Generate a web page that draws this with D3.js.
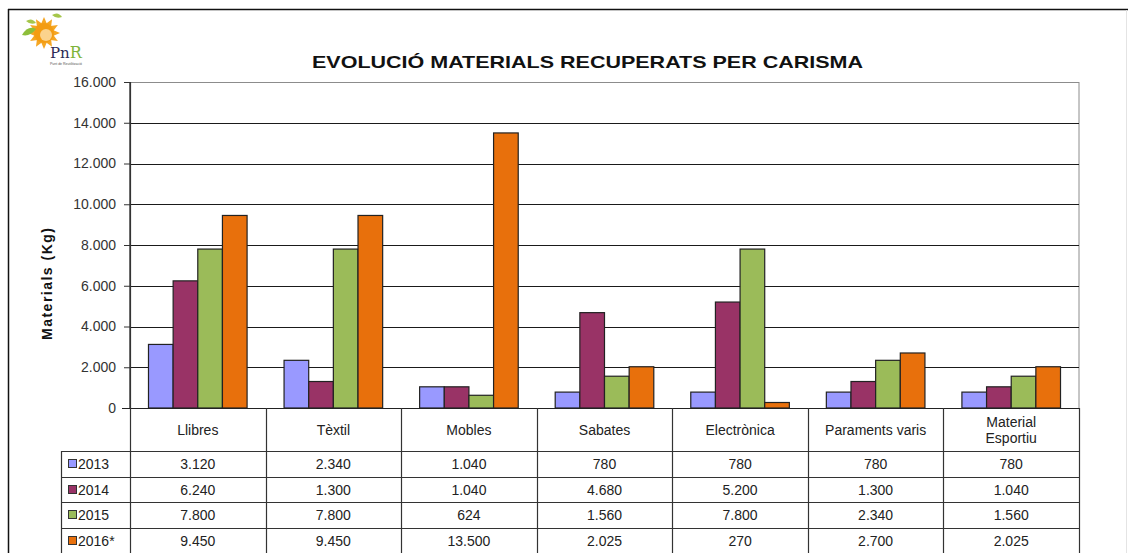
<!DOCTYPE html>
<html>
<head>
<meta charset="utf-8">
<script src="https://cdn.jsdelivr.net/npm/d3@7"></script>
<style>
  html, body { margin: 0; padding: 0; background: #fff; }
  svg { display: block; font-family: "Liberation Sans", Arial, sans-serif; }
</style>
</head>
<body>
<svg id="chart" width="1128" height="553"></svg>
<script>
// ---- Data ----
const title = "EVOLUCIÓ MATERIALS RECUPERATS PER CARISMA";
const yAxisTitle = "Materials (Kg)";
const categories = ["Llibres", "Tèxtil", "Mobles", "Sabates", "Electrònica", "Paraments varis", "Material Esportiu"];
const categoryLines = [["Llibres"], ["Tèxtil"], ["Mobles"], ["Sabates"], ["Electrònica"], ["Paraments varis"], ["Material", "Esportiu"]];
const seriesNames = ["2013", "2014", "2015", "2016*"];
const values2013 = [3120, 2340, 1040, 780, 780, 780, 780];
const values2014 = [6240, 1300, 1040, 4680, 5200, 1300, 1040];
const values2015 = [7800, 7800, 624, 1560, 7800, 2340, 1560];
const values2016 = [9450, 9450, 13500, 2025, 270, 2700, 2025];
const seriesColors = ["#9999FF", "#993366", "#9BBB59", "#E8700C"];
const yTicks = [0, 2000, 4000, 6000, 8000, 10000, 12000, 14000, 16000];

const seriesValues = [values2013, values2014, values2015, values2016];

// ---- Layout ----
const svg = d3.select("#chart");
const plotL = 130, plotR = 1079, plotT = 82, plotB = 408;
const legendL = 61;
const headerB = 451;
const rowH = 26;

const loc = d3.formatLocale({decimal: ",", thousands: ".", grouping: [3], currency: ["", "€"]});
const fmt = loc.format(",d");

const x0 = d3.scaleBand().domain(categories).range([plotL, plotR]).paddingInner(0).paddingOuter(0);
const x1 = d3.scaleBand().domain(seriesNames).range([0, x0.bandwidth()]).paddingInner(0).paddingOuter(0.75);
const y = d3.scaleLinear().domain([0, 16000]).range([plotB, plotT]);

// outer frame
svg.append("line").attr("x1", 8).attr("x2", 1128).attr("y1", 9.5).attr("y2", 9.5).attr("stroke", "#111").attr("stroke-width", 1.5);
svg.append("line").attr("x1", 8.5).attr("x2", 8.5).attr("y1", 9).attr("y2", 553).attr("stroke", "#111").attr("stroke-width", 1.5);
svg.append("line").attr("x1", 1126.5).attr("x2", 1126.5).attr("y1", 10).attr("y2", 553).attr("stroke", "#e4e4e4").attr("stroke-width", 1);

// plot border (top/right gray)
svg.append("rect").attr("x", plotL).attr("y", plotT + 0.5).attr("width", plotR - plotL).attr("height", plotB - plotT)
  .attr("fill", "none").attr("stroke", "#8c8c8c").attr("stroke-width", 1);

// gridlines
svg.append("g").selectAll("line").data(yTicks.filter(d => d > 0 && d < 16000)).join("line")
  .attr("x1", plotL).attr("x2", plotR)
  .attr("y1", d => Math.round(y(d)) + 0.5).attr("y2", d => Math.round(y(d)) + 0.5)
  .attr("stroke", "#1a1a1a").attr("stroke-width", 1.2);

// y axis
const yAxis = d3.axisLeft(y).tickValues(yTicks).tickFormat(fmt).tickSize(6).tickPadding(8);
const gy = svg.append("g").attr("transform", `translate(${plotL},0)`).call(yAxis);
gy.select(".domain").attr("stroke", "#222").attr("d", `M0,${plotT}V${plotB}`);
gy.selectAll(".tick line").attr("stroke", "#333");
gy.selectAll(".tick text").attr("font-size", 14).attr("fill", "#333").attr("font-family", "Liberation Sans, Arial, sans-serif");

// y axis title
svg.append("text").attr("transform", `translate(52,284) rotate(-90)`).attr("text-anchor", "middle")
  .attr("font-size", 14).attr("font-weight", "bold").attr("fill", "#111")
  .attr("textLength", 112).attr("lengthAdjust", "spacing").text(yAxisTitle);

// title
svg.append("text").attr("x", 312).attr("y", 68).attr("font-size", 17).attr("font-weight", "bold").attr("fill", "#111")
  .attr("textLength", 551).attr("lengthAdjust", "spacingAndGlyphs").text(title);

// bars
const gBars = svg.append("g");
categories.forEach((c, ci) => {
  seriesNames.forEach((s, si) => {
    const v = seriesValues[si][ci];
    gBars.append("rect")
      .attr("x", x0(c) + x1(s)).attr("y", y(v))
      .attr("width", x1.bandwidth()).attr("height", y(0) - y(v))
      .attr("fill", seriesColors[si]).attr("stroke", "#222").attr("stroke-width", 1.2);
  });
});

// x axis line / table
const tableStroke = "#333";
svg.append("line").attr("x1", plotL - 8).attr("x2", plotR).attr("y1", plotB + 0.5).attr("y2", plotB + 0.5).attr("stroke", "#222").attr("stroke-width", 1.2);
// vertical table lines
const bounds = categories.map(c => x0(c)).concat([plotR]);
svg.append("g").selectAll("line").data(bounds).join("line")
  .attr("x1", d => Math.round(d) + 0.5).attr("x2", d => Math.round(d) + 0.5)
  .attr("y1", (d, i) => i === 0 ? plotT : plotB).attr("y2", 553)
  .attr("stroke", tableStroke).attr("stroke-width", 1.2);
svg.append("line").attr("x1", legendL + 0.5).attr("x2", legendL + 0.5).attr("y1", headerB).attr("y2", 553).attr("stroke", tableStroke).attr("stroke-width", 1.2);
// horizontal row lines
const rowLines = seriesNames.map((s, i) => headerB + i * rowH + (i > 1 ? -1 : 0));
svg.append("g").selectAll("line").data(rowLines).join("line")
  .attr("x1", legendL).attr("x2", plotR)
  .attr("y1", d => d + 0.5).attr("y2", d => d + 0.5)
  .attr("stroke", tableStroke).attr("stroke-width", 1.2);

// category headers
categories.forEach((c, ci) => {
  const lines = categoryLines[ci];
  const cx = x0(c) + x0.bandwidth() / 2;
  const t = svg.append("text").attr("x", cx).attr("text-anchor", "middle").attr("font-size", 14).attr("fill", "#222");
  if (lines.length === 1) {
    t.attr("y", 435).text(lines[0]);
  } else {
    lines.forEach((l, li) => t.append("tspan").attr("x", cx).attr("y", 427 + li * 16).text(l));
  }
});

// legend column + values
seriesNames.forEach((s, si) => {
  const top = rowLines[si];
  const cy = top + 13;
  svg.append("rect").attr("x", 68.5).attr("y", cy - 4.5).attr("width", 8).attr("height", 8)
    .attr("fill", seriesColors[si]).attr("stroke", "#333").attr("stroke-width", 1);
  svg.append("text").attr("x", 78).attr("y", cy + 5).attr("font-size", 14).attr("fill", "#222").text(s);
  categories.forEach((c, ci) => {
    svg.append("text").attr("x", x0(c) + x0.bandwidth() / 2).attr("y", cy + 5)
      .attr("text-anchor", "middle").attr("font-size", 14).attr("fill", "#222")
      .text(fmt(seriesValues[si][ci]));
  });
});

// logo (approximation)
const logo = svg.append("g").attr("transform", "translate(44,33)");
const rays = d3.range(12).map(i => i * 30);
logo.selectAll("path.ray").data(rays).join("path")
  .attr("d", "M-3,-9 L0,-16 L3,-9 Z")
  .attr("transform", d => `rotate(${d})`)
  .attr("fill", "#F5A623");
logo.append("circle").attr("r", 10).attr("fill", "#F39C12");
logo.append("circle").attr("r", 6).attr("cx", 2).attr("cy", 2).attr("fill", "#FBD38D");
logo.append("path").attr("d", "M-22,2 Q-16,-8 -8,-4 Q-14,4 -22,2 Z").attr("fill", "#8DBE3A");
logo.append("path").attr("d", "M-18,-12 Q-12,-16 -8,-10 Q-14,-8 -18,-12 Z").attr("fill", "#A5C64A");
logo.append("path").attr("d", "M8,-18 Q14,-22 18,-16 Q12,-14 8,-18 Z").attr("fill", "#A5C64A");
svg.append("text").attr("x", 50).attr("y", 58).attr("font-size", 15).attr("font-family", "DejaVu Serif, serif")
  .attr("fill", "#2b2b55").text("Pn")
  .append("tspan").attr("fill", "#7DB33A").attr("font-size", 16).text("R");
svg.append("text").attr("x", 50).attr("y", 65).attr("font-size", 3.5).attr("fill", "#555").text("Punt de Reutilització");
</script>
</body>
</html>
